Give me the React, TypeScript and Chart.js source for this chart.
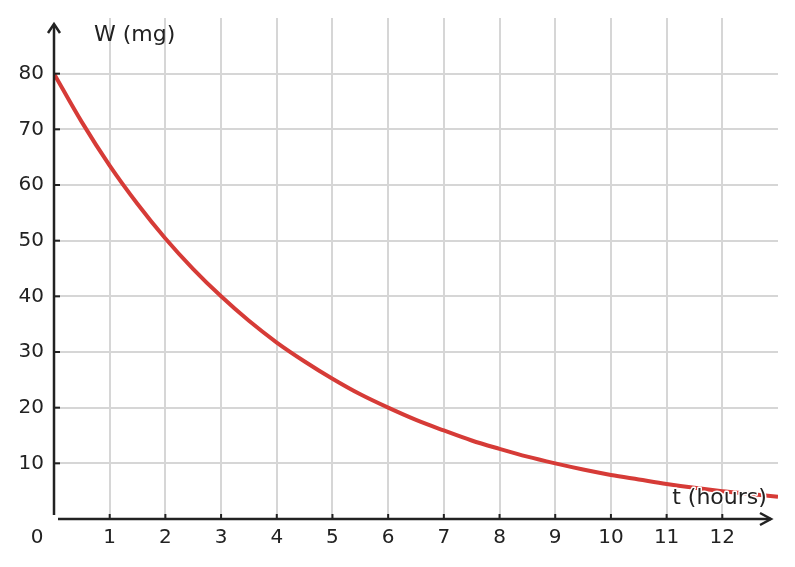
import React, { useEffect, useRef } from "react";
import { Chart, registerables, Plugin } from "chart.js";

Chart.register(...registerables);

// t in hours, read every half hour off the reference curve
const hours = [
  0, 0.5, 1, 1.5, 2, 2.5, 3, 3.5, 4, 4.5, 5, 5.5, 6, 6.5, 7, 7.5, 8, 8.5, 9,
  9.5, 10, 10.5, 11, 11.5, 12, 12.5, 13,
];
const weightMg = [
  80, 71.3, 63.5, 56.6, 50.4, 44.9, 40, 35.6, 31.7, 28.3, 25.2, 22.4, 20,
  17.8, 15.9, 14.1, 12.6, 11.2, 10, 8.9, 7.9, 7.1, 6.3, 5.6, 5, 4.5, 4,
];
const xTicks = [1, 2, 3, 4, 5, 6, 7, 8, 9, 10, 11, 12];
const yTicks = [10, 20, 30, 40, 50, 60, 70, 80];

const FONT = '20px "DejaVu Sans", sans-serif';
const TITLE_FONT = '22px "DejaVu Sans", sans-serif';
const INK = "#222222";

const axesPlugin: Plugin<"line"> = {
  id: "handAxes",
  afterDatasetsDraw(chart) {
    const { ctx } = chart;
    const xs = chart.scales.x;
    const ys = chart.scales.y;
    const x0 = xs.getPixelForValue(0);
    const y0 = ys.getPixelForValue(0);
    const right = xs.getPixelForValue(13);

    ctx.save();
    ctx.strokeStyle = INK;
    ctx.fillStyle = INK;
    ctx.lineWidth = 2.5;
    ctx.lineCap = "butt";

    // y axis with arrow
    ctx.beginPath();
    ctx.moveTo(x0, y0 - 4);
    ctx.lineTo(x0, 25);
    ctx.stroke();
    ctx.beginPath();
    ctx.moveTo(x0 - 6, 33);
    ctx.lineTo(x0, 24);
    ctx.lineTo(x0 + 6, 33);
    ctx.stroke();

    // x axis with arrow
    ctx.beginPath();
    ctx.moveTo(x0 + 4, y0);
    ctx.lineTo(right - 7, y0);
    ctx.stroke();
    ctx.beginPath();
    ctx.moveTo(right - 18, y0 - 6);
    ctx.lineTo(right - 7, y0);
    ctx.lineTo(right - 18, y0 + 6);
    ctx.stroke();

    // tick marks
    ctx.lineWidth = 2;
    xTicks.forEach((v) => {
      const px = xs.getPixelForValue(v);
      ctx.beginPath();
      ctx.moveTo(px, y0);
      ctx.lineTo(px, y0 - 5);
      ctx.stroke();
    });
    yTicks.forEach((v) => {
      const py = ys.getPixelForValue(v);
      ctx.beginPath();
      ctx.moveTo(x0, py);
      ctx.lineTo(x0 + 6, py);
      ctx.stroke();
    });

    // tick labels
    ctx.font = FONT;
    ctx.textBaseline = "middle";
    ctx.textAlign = "center";
    xTicks.forEach((v) => {
      ctx.fillText(String(v), xs.getPixelForValue(v), y0 + 19);
    });
    ctx.fillText("0", x0 - 17, y0 + 19);
    ctx.textAlign = "right";
    yTicks.forEach((v) => {
      ctx.fillText(String(v), x0 - 10, ys.getPixelForValue(v));
    });

    // axis titles
    ctx.font = TITLE_FONT;
    ctx.textAlign = "left";
    ctx.fillText("W (mg)", x0 + 40, 35);
    ctx.strokeStyle = "#ffffff";
    ctx.lineWidth = 3;
    ctx.lineJoin = "round";
    const tx = xs.getPixelForValue(11.1);
    ctx.strokeText("t (hours)", tx, y0 - 21);
    ctx.fillText("t (hours)", tx, y0 - 21);
    ctx.restore();
  },
};

const App: React.FC = () => {
  const canvasRef = useRef<HTMLCanvasElement | null>(null);

  useEffect(() => {
    if (!canvasRef.current) return;
    const chart = new Chart(canvasRef.current, {
      type: "line",
      data: {
        labels: hours,
        datasets: [
          {
            data: hours.map((t, i) => ({ x: t, y: weightMg[i] })),
            borderColor: "#d63b37",
            borderWidth: 4,
            pointRadius: 0,
            cubicInterpolationMode: "monotone",
            fill: false,
          },
        ],
      },
      options: {
        animation: false,
        responsive: false,
        events: [],
        layout: { padding: { left: 54, right: 17, top: 18, bottom: 48 } },
        plugins: {
          legend: { display: false },
          tooltip: { enabled: false },
        },
        scales: {
          x: {
            type: "linear",
            min: 0,
            max: 13,
            ticks: { stepSize: 1, display: false },
            border: { display: false },
            grid: {
              drawTicks: false,
              lineWidth: 2,
              color: (c) =>
                c.tick && (c.tick.value === 0 || c.tick.value === 13)
                  ? "rgba(0,0,0,0)"
                  : "#d6d6d6",
            },
          },
          y: {
            type: "linear",
            min: 0,
            max: 90,
            ticks: { stepSize: 10, display: false },
            border: { display: false },
            grid: {
              drawTicks: false,
              lineWidth: 2,
              color: (c) =>
                c.tick && (c.tick.value === 0 || c.tick.value === 90)
                  ? "rgba(0,0,0,0)"
                  : "#d6d6d6",
            },
          },
        },
      },
      plugins: [axesPlugin],
    });
    return () => {
      chart.destroy();
    };
  }, []);

  return (
    <div style={{ position: "absolute", left: 0, top: 0, width: 795, height: 567, background: "#fff" }}>
      <canvas ref={canvasRef} width={795} height={567} />
    </div>
  );
};

export default App;
